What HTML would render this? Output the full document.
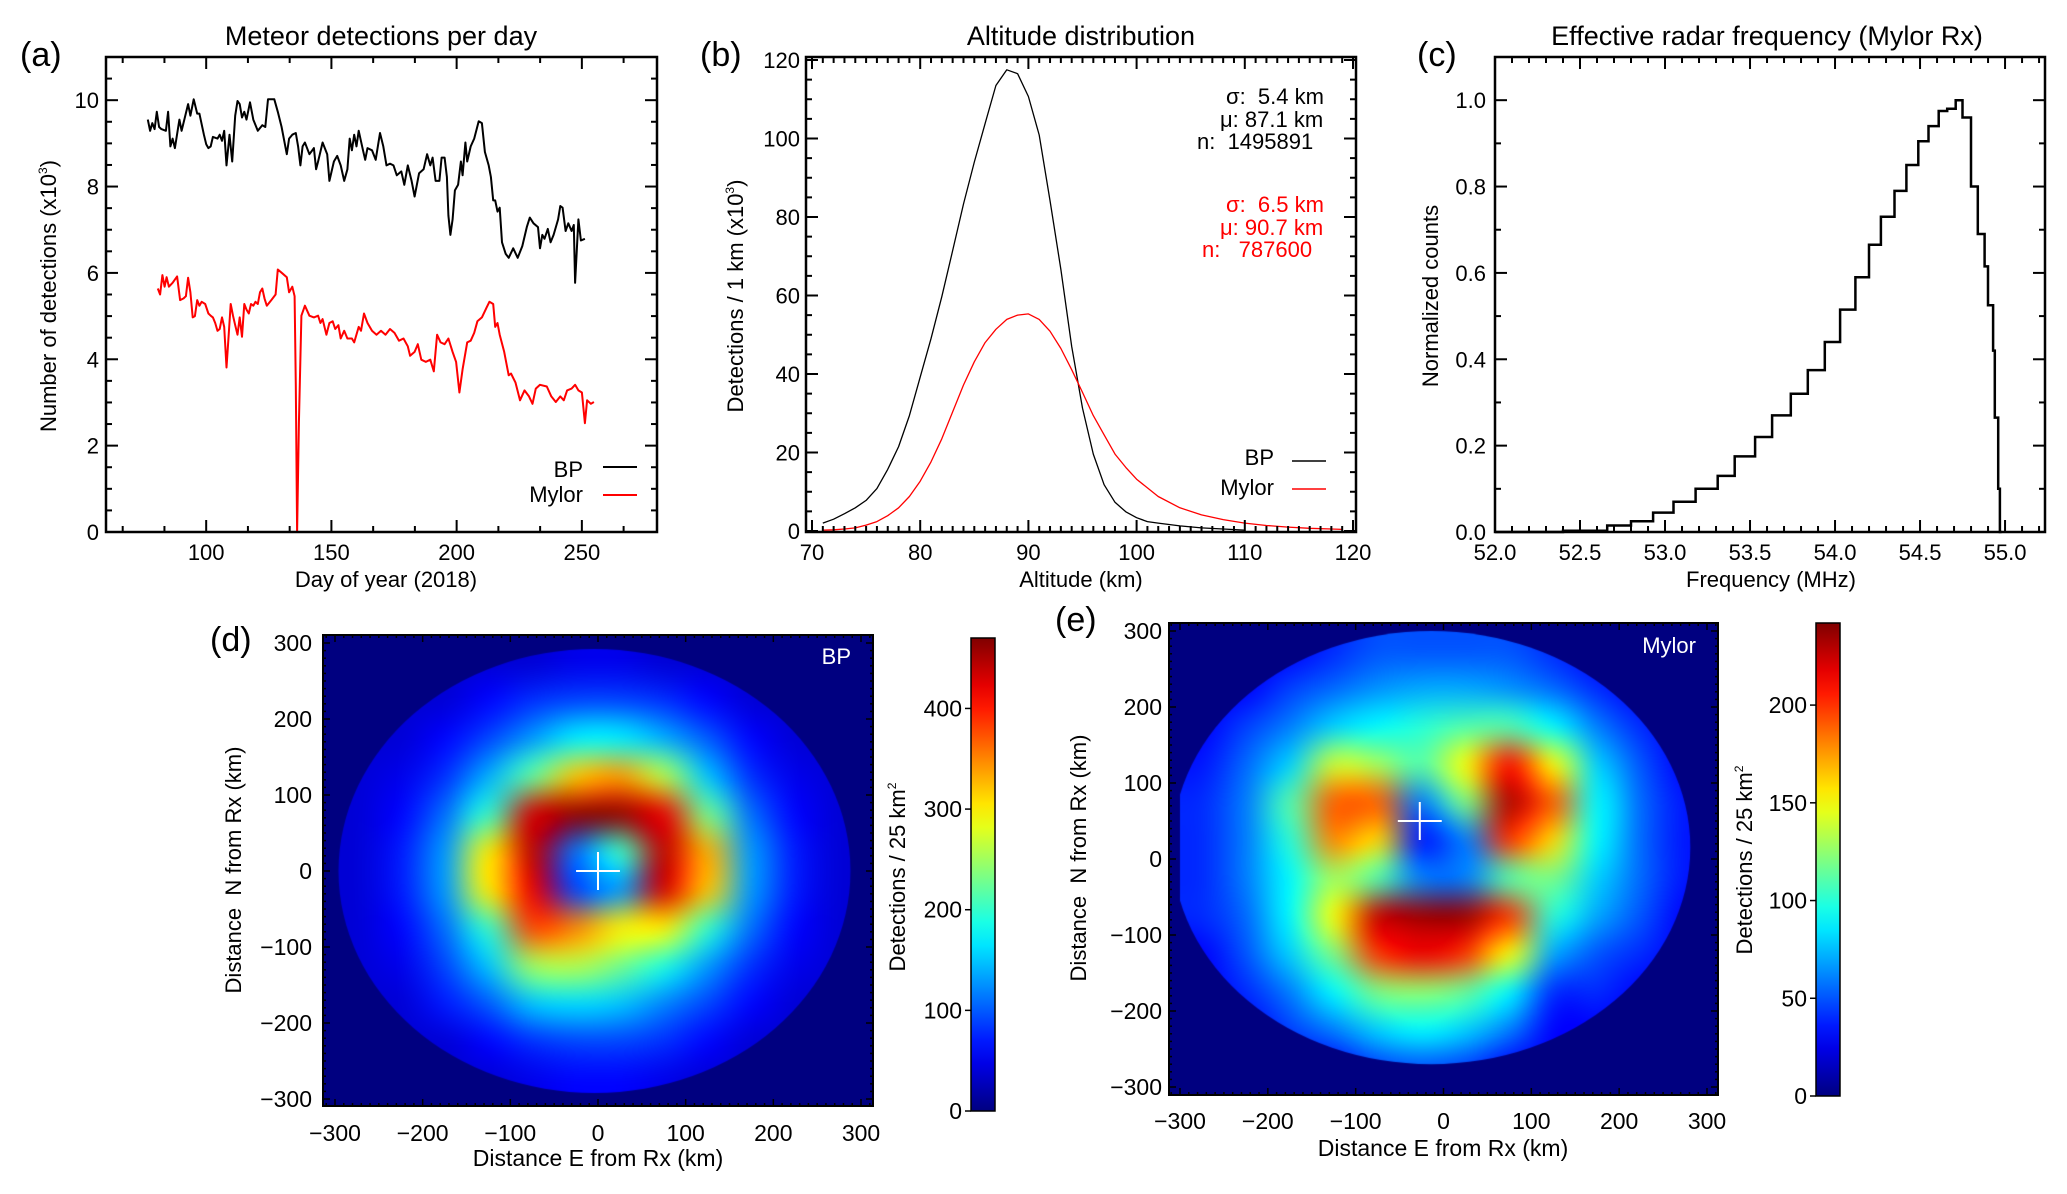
<!DOCTYPE html>
<html><head><meta charset="utf-8">
<style>
html,body{margin:0;padding:0;background:#fff;}
#wrap{position:relative;width:2067px;height:1194px;overflow:hidden;}
svg{position:absolute;left:0;top:0;}
canvas{position:absolute;}
text{font-family:"Liberation Sans",sans-serif;fill:#000;white-space:pre;}
.n{font-family:"Liberation Sans Narrow","Liberation Sans",sans-serif;}
</style></head>
<body>
<div id="wrap">
<canvas id="cvD"></canvas>
<canvas id="cvE"></canvas>
<svg id="svg" width="2067" height="1194" xmlns="http://www.w3.org/2000/svg">
<defs>
<linearGradient id="jetGrad" x1="0" y1="1" x2="0" y2="0"></linearGradient>
</defs>
<text x="20" y="66" font-size="34">(a)</text>
<text x="381" y="45" font-size="27" text-anchor="middle">Meteor detections per day</text>
<text x="700" y="66" font-size="34">(b)</text>
<text x="1081" y="45" font-size="27" text-anchor="middle">Altitude distribution</text>
<text x="1417" y="66" font-size="34">(c)</text>
<text x="1767" y="45" font-size="27" text-anchor="middle">Effective radar frequency (Mylor Rx)</text>
<text x="210" y="651" font-size="34">(d)</text>
<text x="1055" y="631" font-size="34">(e)</text>

<text x="386" y="587" font-size="22" text-anchor="middle">Day of year (2018)</text>
<text transform="translate(56,296) rotate(-90)" font-size="22" text-anchor="middle">Number of detections (x10<tspan font-size="12" dy="-9">3</tspan><tspan dy="9">)</tspan></text>
<text x="1081" y="587" font-size="22" text-anchor="middle">Altitude (km)</text>
<text transform="translate(743,296) rotate(-90)" font-size="22" text-anchor="middle">Detections / 1 km (x10<tspan font-size="12" dy="-9">3</tspan><tspan dy="9">)</tspan></text>
<text x="1771" y="587" font-size="22" text-anchor="middle">Frequency (MHz)</text>
<text transform="translate(1438,296) rotate(-90)" font-size="22" text-anchor="middle">Normalized counts</text>
<text class="n" x="598" y="1166" font-size="23" text-anchor="middle">Distance E from Rx (km)</text>
<text transform="translate(241,870) rotate(-90)" font-size="22" text-anchor="middle">Distance  N from Rx (km)</text>
<text transform="translate(905,877) rotate(-90)" font-size="22" text-anchor="middle">Detections / 25 km<tspan font-size="12" dy="-9">2</tspan></text>
<text class="n" x="1443" y="1156" font-size="23" text-anchor="middle">Distance E from Rx (km)</text>
<text transform="translate(1086,858) rotate(-90)" font-size="22" text-anchor="middle">Distance  N from Rx (km)</text>
<text transform="translate(1752,860) rotate(-90)" font-size="22" text-anchor="middle">Detections / 25 km<tspan font-size="12" dy="-9">2</tspan></text>

<text x="583" y="477" font-size="22" text-anchor="end">BP</text>
<line x1="603" y1="467" x2="637" y2="467" stroke="#000" stroke-width="2"/>
<text x="583" y="502" font-size="22" text-anchor="end">Mylor</text>
<line x1="603" y1="495" x2="637" y2="495" stroke="#f00" stroke-width="2"/>
<text x="1274" y="465" font-size="22" text-anchor="end">BP</text>
<line x1="1292" y1="461" x2="1326" y2="461" stroke="#000" stroke-width="1.5"/>
<text x="1274" y="495" font-size="22" text-anchor="end">Mylor</text>
<line x1="1292" y1="489" x2="1326" y2="489" stroke="#f00" stroke-width="1.5"/>
<g font-size="22">
<text x="1226" y="104">σ:  5.4 km</text>
<text x="1220" y="127">μ: 87.1 km</text>
<text x="1197" y="149">n:  1495891</text>
</g>
<g font-size="22">
<text x="1226" y="212" style="fill:#f00">σ:  6.5 km</text>
<text x="1220" y="235" style="fill:#f00">μ: 90.7 km</text>
<text x="1202" y="257" style="fill:#f00">n:   787600</text>
</g>
<g id="dyn"></g>
<text class="n" x="851" y="664" font-size="22" text-anchor="end" style="fill:#fff">BP</text>
<text class="n" x="1696" y="653" font-size="22" text-anchor="end" style="fill:#fff">Mylor</text>
</svg>
</div>
<script>
const bpDays=[76.7,77.6,78.5,79.4,80.3,81.2,82.1,83.9,84.8,85.7,86.6,87.5,89.3,90.2,92.8,93.7,95.0,96.4,97.3,99.1,100,100.9,101.8,102.7,104.5,105.4,106.3,107.2,108.1,109.3,110.4,111.6,112.5,113.4,114.3,115.2,116.1,117.5,118.8,120.6,122.4,123.6,124.7,127.2,128.6,130.1,132.2,133.1,134.4,135.8,136.7,137.6,138.5,139.4,141.2,143.0,143.9,144.7,146.5,148.3,149.2,151.0,152.3,153.7,155.1,156.4,157.3,158.2,159.1,160.0,160.9,162.6,163.5,164.4,166.2,167.7,169.4,170.7,172.0,173.4,174.8,176.1,177.9,179.1,180.5,182.0,183.2,185.0,186.8,188.2,189.5,190.4,191.6,193.1,194.0,195.2,196.1,196.7,197.5,198.4,199.3,200.6,201.7,202.4,203.5,204.2,205.6,207.0,208.8,210.1,211.3,212.8,213.7,214.6,215.4,216.3,217.2,218.1,219.6,220.8,222.6,224.4,226.2,228.0,229.2,230.7,232.5,233.3,234.2,235.1,236.4,237.5,238.7,240.5,241.4,242.3,243.5,244.6,245.9,246.8,247.3,248.6,249.6,251.2];
const bpCounts=[9.55,9.29,9.47,9.33,9.73,9.38,9.33,9.29,9.73,8.93,9.11,8.89,9.55,9.29,9.91,9.64,10.02,9.69,9.69,9.20,8.98,8.89,8.93,9.15,9.11,9.20,9.06,9.29,8.49,9.20,8.58,9.64,9.98,9.91,9.60,9.73,9.55,9.95,9.55,9.29,9.42,9.38,10.02,10.02,9.73,9.38,8.75,9.11,9.20,9.24,8.93,8.49,8.93,9.02,8.75,8.89,8.40,8.58,9.02,8.75,8.13,8.58,8.71,8.49,8.13,8.40,9.11,8.84,9.20,8.93,9.29,8.84,8.62,8.89,8.84,8.62,9.24,8.93,8.49,8.53,8.49,8.26,8.35,8.04,8.49,8.13,7.77,8.31,8.40,8.75,8.49,8.67,8.13,8.13,8.67,8.67,8.22,7.33,6.88,7.24,7.91,8.04,8.58,8.26,9.02,8.58,8.93,9.11,9.51,9.47,8.80,8.49,8.22,7.68,7.68,7.42,7.51,6.71,6.44,6.35,6.57,6.35,6.62,7.06,7.28,7.15,7.06,6.57,6.88,6.79,7.02,6.71,6.88,7.24,7.55,7.51,6.97,7.15,6.97,7.11,5.77,7.24,6.75,6.79];
const myDays=[80.7,81.6,82.5,83.4,84.2,85.1,86.6,88.4,89.6,91.0,91.9,92.8,93.7,94.6,95.5,96.4,97.3,98.2,99.6,100.9,101.8,102.7,103.6,104.5,105.4,106.3,107.2,108.1,109.0,109.8,110.7,111.6,112.5,113.4,114.3,115.2,116.1,117.0,117.9,118.8,119.7,120.6,121.5,122.4,123.3,124.2,126.0,127.7,128.6,130.4,132.2,133.1,134.4,135.3,135.8,136.3,137.0,138.0,139.4,141.2,143.0,144.7,145.6,146.5,148.0,149.2,150.5,151.5,152.8,153.7,155.1,156.4,158.2,159.1,160.9,161.8,163.0,164.4,166.2,168.0,169.8,171.6,173.4,175.2,177.0,178.8,180.5,181.4,183.2,184.5,185.9,187.7,189.5,190.9,192.2,193.6,195.2,196.7,198.4,199.8,201.1,202.4,204.2,205.6,207.0,208.3,210.1,211.9,213.1,214.6,215.4,216.3,217.2,219.0,220.8,221.7,223.5,225.3,227.1,228.9,230.3,231.6,233.3,236.0,237.8,239.6,241.4,242.8,244.1,245.9,247.3,248.6,250.0,251.2,252.1,253.6,254.8];
const myCounts=[5.64,5.50,5.95,5.68,5.90,5.68,5.77,5.92,5.37,5.41,5.46,5.89,5.55,4.97,5.00,5.37,5.24,5.33,5.28,5.06,5.01,4.97,4.84,4.66,4.70,4.97,4.75,3.81,4.57,5.28,5.01,4.79,4.57,4.97,4.52,5.28,5.15,5.06,5.28,5.24,5.33,5.28,5.55,5.64,5.41,5.24,5.37,5.50,6.08,5.99,5.90,5.55,5.68,5.46,3.41,0.0,2.52,5.01,5.24,5.01,4.97,5.01,4.84,4.93,4.57,4.84,4.88,4.70,4.79,4.48,4.66,4.48,4.48,4.39,4.75,4.66,5.06,4.84,4.66,4.57,4.66,4.57,4.70,4.61,4.43,4.48,4.30,4.08,4.17,4.35,3.99,3.94,3.99,3.72,4.57,4.39,4.35,4.48,4.17,3.94,3.23,3.77,4.39,4.43,4.61,4.88,4.97,5.19,5.33,5.28,4.75,4.84,4.57,4.17,3.63,3.67,3.46,3.05,3.28,3.14,2.97,3.32,3.41,3.37,3.14,3.01,3.14,3.05,3.28,3.32,3.41,3.28,3.23,2.52,3.05,2.97,3.01];
const aXTicks=[100,150,200,250];
const aYTicks=[0,2,4,6,8,10];
const altKm=[71,72,73,74,75,76,77,78,79,80,81,82,83,84,85,86,87,88,89,90,91,92,93,94,95,96,97,98,99,100,101,102,104,106,108,110];
const altBP=[2,3,4.4,5.9,7.8,10.8,15.7,21.5,29.4,39.2,49,59.7,71.5,83.3,94,103.8,113.5,117.5,116.5,110.7,100.9,84.2,66.6,47,31.3,19.6,11.8,7.3,4.9,3.4,2.4,2.0,1.3,0.8,0.5,0.2];
const altKmMy=[71,72,73,74,75,76,77,78,79,80,81,82,83,84,85,86,87,88,89,90,91,92,93,94,95,96,97,98,99,100,102,104,106,108,110,112,114,116,118,119];
const altMylor=[0.2,0.3,0.5,0.8,1.5,2.4,3.9,5.9,8.8,12.7,17.6,23.5,30.4,37.2,43.1,48,51.4,53.9,55,55.3,53.9,50.9,46.5,41.1,35.3,29.4,24.5,19.6,16.2,13.2,8.8,5.9,4.1,2.9,2.0,1.4,1.0,0.7,0.5,0.4];
const bXTicks=[70,80,90,100,110,120];
const bYTicks=[0,20,40,60,80,100,120];
const freqEdges=[52.0,52.40,52.66,52.80,52.93,53.05,53.18,53.31,53.41,53.53,53.63,53.74,53.84,53.94,54.03,54.12,54.20,54.27,54.35,54.42,54.49,54.55,54.61,54.66,54.71,54.75,54.80,54.84,54.88,54.90,54.93,54.94,54.96,54.97,54.98];
const freqCounts=[0.0,0.003,0.015,0.025,0.045,0.07,0.10,0.13,0.175,0.22,0.27,0.32,0.375,0.44,0.515,0.59,0.665,0.73,0.79,0.85,0.905,0.94,0.975,0.98,1.0,0.96,0.80,0.69,0.615,0.525,0.42,0.265,0.10,0.0];
const cXTicks=[52.0,52.5,53.0,53.5,54.0,54.5,55.0];
const cYTicks=[0.0,0.2,0.4,0.6,0.8,1.0];
const bpGrid=[
[40,40,40,40,40,50,50,40,40,40,40,40],
[40,40,40,60,80,90,90,80,60,40,40,40],
[40,40,60,90,130,170,170,140,100,60,40,40],
[40,50,80,140,220,320,340,260,150,80,50,40],
[40,60,110,200,430,460,460,420,230,110,60,40],
[40,70,130,300,440,110,200,440,330,130,70,40],
[40,70,130,300,420,90,130,430,320,130,70,40],
[40,60,110,200,380,350,300,300,200,110,60,40],
[40,50,90,150,250,260,230,190,130,80,50,40],
[40,40,70,100,150,160,150,120,90,60,40,40],
[40,40,40,60,80,90,90,80,60,40,40,40],
[40,40,40,40,50,60,60,50,40,40,40,40]];
const mylorGrid=[
[30,30,30,40,50,50,50,50,40,30,30,30],
[30,30,45,55,65,70,70,65,55,40,30,30],
[30,45,60,80,90,100,110,110,90,60,40,30],
[35,55,80,140,130,110,150,210,150,80,50,30],
[40,60,110,190,190,60,120,230,190,90,55,35],
[40,60,100,180,160,35,60,200,160,90,55,35],
[40,60,90,130,110,60,60,110,120,80,55,35],
[40,55,90,150,225,235,235,200,100,70,50,30],
[30,50,80,120,200,215,200,150,70,50,40,30],
[30,40,60,90,120,125,115,90,40,40,30,30],
[30,30,45,60,80,90,80,60,30,30,30,30],
[30,30,30,30,45,50,45,30,30,30,30,30]];
const bpEllipse=[-4,0,292,292];
const mylorEllipse=[-14,15,295,285];
const bpCross=[0,0];
const mylorCross=[-27,50];
const mapTicks=[-300,-200,-100,0,100,200,300];
const bpBarTicks=[0,100,200,300,400];
const mylorBarTicks=[0,50,100,150,200];

const NS='http://www.w3.org/2000/svg';
const dyn=document.getElementById('dyn');
function el(tag,attrs,parent){const e=document.createElementNS(NS,tag);for(const k in attrs)e.setAttribute(k,attrs[k]);(parent||dyn).appendChild(e);return e;}
function lin(d0,d1,r0,r1){return v=>r0+(v-d0)*(r1-r0)/(d1-d0);}
function jet(t){t=Math.max(0,Math.min(1,t));const c=x=>Math.round(255*Math.max(0,Math.min(1,x)));return [c(1.5-Math.abs(4*t-3)),c(1.5-Math.abs(4*t-2)),c(1.5-Math.abs(4*t-1))];}

function frame(P,name,lw){
  const r=el('rect',{x:P.x0,y:P.y0,width:P.x1-P.x0,height:P.y1-P.y0,fill:'none',stroke:'#000','stroke-width':lw||2.5});
  
  
}
function ticks(P,sx,sy,xmaj,xmin,ymaj,ymin,lmaj,lmin,name,w){
  const g=el('g',{stroke:'#000','stroke-width':w||2});
  
  
  const eps=1e-6;
  for(let v=Math.ceil(P.xd[0]/xmin-eps)*xmin; v<=P.xd[1]+eps; v+=xmin){
    const isMaj=Math.abs(v/xmaj-Math.round(v/xmaj))<1e-3; const L=isMaj?lmaj:lmin; const x=sx(v);
    if(x<P.x0-0.5||x>P.x1+0.5)continue;
    el('line',{x1:x,y1:P.y1,x2:x,y2:P.y1-L},g); el('line',{x1:x,y1:P.y0,x2:x,y2:P.y0+L},g);
  }
  for(let v=Math.ceil(P.yd[0]/ymin-eps)*ymin; v<=P.yd[1]+eps; v+=ymin){
    const isMaj=Math.abs(v/ymaj-Math.round(v/ymaj))<1e-3; const L=isMaj?lmaj:lmin; const y=sy(v);
    if(y<P.y0-0.5||y>P.y1+0.5)continue;
    el('line',{x1:P.x0,y1:y,x2:P.x0+L,y2:y},g); el('line',{x1:P.x1,y1:y,x2:P.x1-L,y2:y},g);
  }
}
function xLabels(vals,sx,y,fmt,name,cls,fs){
  vals.forEach(v=>{const t=el('text',{x:sx(v),y:y,'font-size':fs||22,'text-anchor':'middle'});if(cls)t.setAttribute('class',cls);t.textContent=fmt(v);
    
    });
}
function yLabels(vals,sy,x,fmt,name,cls,fs){
  vals.forEach(v=>{const t=el('text',{x:x,y:sy(v)+8,'font-size':fs||22,'text-anchor':'end'});if(cls)t.setAttribute('class',cls);t.textContent=fmt(v);
    
    });
}
function polyline(xs,ys,sx,sy,color,w,name){
  const pts=xs.map((x,i)=>sx(x).toFixed(1)+','+sy(ys[i]).toFixed(1)).join(' ');
  const p=el('polyline',{points:pts,fill:'none',stroke:color,'stroke-width':w,'stroke-linejoin':'round'});
  
  
}

const PA={x0:106,x1:657,y0:57,y1:532,xd:[60,280],yd:[0,11]};
const ax=lin(60,280,PA.x0,PA.x1), ay=lin(0,11,PA.y1,PA.y0);
polyline(bpDays,bpCounts,ax,ay,'#000',2,'bp-daily-line');
polyline(myDays,myCounts,ax,ay,'#f00',2,'mylor-daily-line');
frame(PA,'panel-a');
ticks(PA,ax,ay,50,50/3,2,0.5,12,6,'panel-a');
xLabels(aXTicks,ax,560,v=>String(v),'panel-a');
yLabels(aYTicks,ay,99,v=>String(v),'panel-a');

const PB={x0:806,x1:1356,y0:57,y1:532,xd:[69.45,120.3],yd:[-0.1,121]};
const bx=lin(70,120,812,1353), by=lin(0,120,531,60);
polyline(altKm,altBP,bx,by,'#000',1.3,'bp-altitude-curve');
polyline(altKmMy,altMylor,bx,by,'#f00',1.3,'mylor-altitude-curve');
frame(PB,'panel-b');
ticks(PB,bx,by,10,1,20,5,12,6,'panel-b');
xLabels(bXTicks,bx,560,v=>String(v),'panel-b');
yLabels(bYTicks,by,800,v=>String(v),'panel-b');

const PC={x0:1495,x1:2045,y0:57,y1:532,xd:[52,55.235],yd:[0,1.1]};
const cx=lin(52,55.235,PC.x0,PC.x1), cy=lin(0,1.1,PC.y1,PC.y0);
(function(){
  let d='M'+cx(freqEdges[0])+','+cy(freqCounts[0]);
  for(let i=0;i<freqCounts.length;i++){
    d+=' L'+cx(freqEdges[i]).toFixed(1)+','+cy(freqCounts[i]).toFixed(1)+' L'+cx(freqEdges[i+1]).toFixed(1)+','+cy(freqCounts[i]).toFixed(1);
  }
  const p=el('path',{d:d,fill:'none',stroke:'#000','stroke-width':2.5});
  
  
})();
frame(PC,'panel-c');
ticks(PC,cx,cy,0.5,0.1,0.2,0.1,12,6,'panel-c');
xLabels(cXTicks,cx,560,v=>v.toFixed(1),'panel-c');
yLabels(cYTicks,cy,1486,v=>v.toFixed(1),'panel-c');

function drawMap(cvId,P,grid,ell,cross,vmax,name){
  const sx=lin(-300,300,P.tx0,P.tx1), sy=lin(-300,300,P.ty0,P.ty1);
  const cv=document.getElementById(cvId);
  const W=P.x1-P.x0,H=P.y1-P.y0;
  cv.width=W;cv.height=H;cv.style.left=P.x0+'px';cv.style.top=P.y0+'px';
  const ctx=cv.getContext('2d');
  const c0=jet(0);ctx.fillStyle='rgb('+c0+')';ctx.fillRect(0,0,W,H);
  const n=grid.length,m=grid[0].length;
  const sm=document.createElement('canvas');sm.width=m;sm.height=n;
  const sctx=sm.getContext('2d');const img=sctx.createImageData(m,n);
  for(let r=0;r<n;r++)for(let c=0;c<m;c++){const col=jet(grid[r][c]/vmax);const k=(r*m+c)*4;img.data[k]=col[0];img.data[k+1]=col[1];img.data[k+2]=col[2];img.data[k+3]=255;}
  sctx.putImageData(img,0,0);
  ctx.save();
  ctx.beginPath();
  ctx.ellipse(sx(ell[0])-P.x0,sy(ell[1])-P.y0,Math.abs(sx(ell[2])-sx(0)),Math.abs(sy(ell[3])-sy(0)),0,0,Math.PI*2);
  ctx.clip();
  ctx.imageSmoothingEnabled=true;ctx.imageSmoothingQuality='high';
  const gx0=sx(-300)-P.x0,gy0=sy(300)-P.y0,gx1=sx(300)-P.x0,gy1=sy(-300)-P.y0;
  ctx.drawImage(sm,0,0,m,n,gx0,gy0,gx1-gx0,gy1-gy0);
  ctx.restore();
  const g=el('g',{stroke:'#fff','stroke-width':2});
  
  
  el('line',{x1:sx(cross[0]-25),y1:sy(cross[1]),x2:sx(cross[0]+25),y2:sy(cross[1])},g);
  el('line',{x1:sx(cross[0]),y1:sy(cross[1]-25),x2:sx(cross[0]),y2:sy(cross[1]+25)},g);
  const Pd={x0:P.x0,x1:P.x1,y0:P.y0,y1:P.y1,xd:[-320,320],yd:[-320,320]};
  frame(Pd,name,2);
  ticks(Pd,sx,sy,100,10,100,10,7,3,name,1.5);
  return {sx,sy};
}
function colorbar(B,vmax,tickVals,name){
  const r=el('rect',{x:B.x0,y:B.y0,width:B.x1-B.x0,height:B.y1-B.y0,fill:'url(#jetGrad)',stroke:'#000','stroke-width':1.5});
  
  
  const s=lin(0,vmax,B.y1,B.y0);
  const g=el('g',{stroke:'#000','stroke-width':1.5});
  tickVals.forEach(v=>{el('line',{x1:B.x0-6,y1:s(v),x2:B.x0,y2:s(v)},g);});
  yLabels(tickVals,s,B.x0-9,v=>String(v),name+'-colorbar','n',23);
}
(function(){const gr=document.getElementById('jetGrad');for(let i=0;i<=20;i++){const c=jet(i/20);const s=document.createElementNS(NS,'stop');s.setAttribute('offset',(i/20));s.setAttribute('stop-color','rgb('+c+')');gr.appendChild(s);}})();

const PD={x0:323,x1:873,y0:635,y1:1106,tx0:335,tx1:861,ty0:1099,ty1:643};
const md=drawMap('cvD',PD,bpGrid,bpEllipse,bpCross,470,'map-d');
xLabels(mapTicks,md.sx,1141,v=>String(v).replace('-','\u2212'),'map-d','n',23);
yLabels(mapTicks,md.sy,312,v=>String(v).replace('-','\u2212'),'map-d','n',23);
colorbar({x0:971,x1:995,y0:638,y1:1111},470,bpBarTicks,'map-d');

const PE={x0:1169,x1:1718,y0:623,y1:1095,tx0:1180,tx1:1707,ty0:1087,ty1:631};
const me=drawMap('cvE',PE,mylorGrid,mylorEllipse,mylorCross,242,'map-e');
xLabels(mapTicks,me.sx,1129,v=>String(v).replace('-','\u2212'),'map-e','n',23);
yLabels(mapTicks,me.sy,1162,v=>String(v).replace('-','\u2212'),'map-e','n',23);
colorbar({x0:1816,x1:1840,y0:623,y1:1096},242,mylorBarTicks,'map-e');
</script>
</body></html>
